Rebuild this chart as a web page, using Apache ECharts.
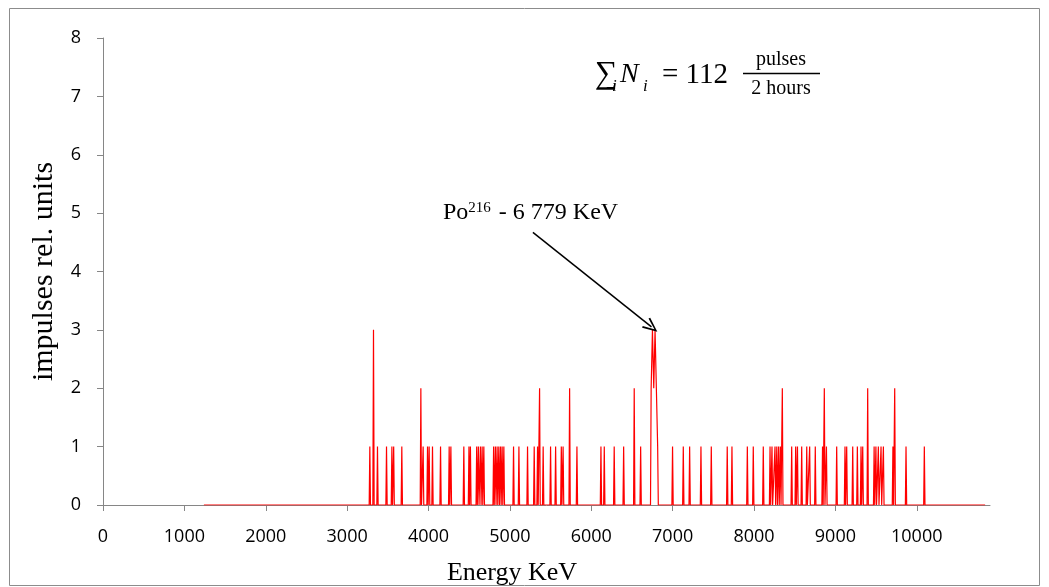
<!DOCTYPE html>
<html>
<head>
<meta charset="utf-8">
<script src="https://cdn.jsdelivr.net/npm/echarts@6/dist/echarts.min.js"></script>
<style>html,body{margin:0;padding:0;background:#fff}#c{width:1049px;height:587px}</style>
</head>
<body>
<div id="c"></div>
<script>
// ---- data ----
const xTickValues = [0,1000,2000,3000,4000,5000,6000,7000,8000,9000,10000];
const yTickValues = [0,1,2,3,4,5,6,7,8];
const spectrumStart = 1240;   // keV, first point of the trace
const spectrumEnd = 10840;    // keV, last point of the trace
const peakEnergy = [
  3279,3324,3373,3484,3550,3572,3672,3906,3934,3988,4008,4049,4148,4254,4275,
  4434,4497,4515,4592,4613,4638,4659,4680,4800,4822,4843,4864,4885,4905,4926,
  5045,5111,5217,5299,5340,5365,5409,5500,5562,5632,5654,5734,5824,
  6119,6160,6282,6398,6528,6607,
  6736,6752,6768,6784,6800,6816,
  6999,7131,7209,7348,7475,7671,7729,
  7918,7991,8114,8197,8221,8258,8280,8302,8324,8348,8463,8512,8534,8586,8648,8684,8753,8842,8864,8890,
  9016,9118,9139,9213,9270,9315,9336,9397,9476,9498,9528,9561,9590,9707,9729,9868,10093
];
const peakCount = [
  1,3,1,1,1,1,1,2,1,1,1,1,1,1,1,
  1,1,1,1,1,1,1,1,1,1,1,1,1,1,1,
  1,1,1,1,1,2,1,1,1,1,1,2,1,
  1,1,1,1,2,1,
  2,3,2,3,2,1,
  1,1,1,1,1,1,1,
  1,1,1,1,1,1,1,1,1,2,1,1,1,1,1,1,1,1,2,1,
  1,1,1,1,1,1,1,2,1,1,1,1,1,1,2,1,1
];
const channelHalfWidth = 8; // keV, half of one spectrometer channel

// build the trace: zero baseline between channels that carry counts
function buildTrace() {
  const idx = peakEnergy.map((e, i) => i).sort((a, b) => peakEnergy[a] - peakEnergy[b]);
  const pts = [[spectrumStart, 0]];
  for (let k = 0; k < idx.length; k++) {
    const e = peakEnergy[idx[k]], c = peakCount[idx[k]];
    const prev = k > 0 ? peakEnergy[idx[k - 1]] : -Infinity;
    const next = k < idx.length - 1 ? peakEnergy[idx[k + 1]] : Infinity;
    if (e - prev > 2 * channelHalfWidth) pts.push([e - channelHalfWidth, 0]);
    pts.push([e, c]);
    if (next - e > 2 * channelHalfWidth) pts.push([e + channelHalfWidth, 0]);
  }
  pts.push([spectrumEnd, 0]);
  return pts;
}

const chart = echarts.init(document.getElementById('c'), null, {renderer: 'canvas'});
const axisGray = '#868686';
const tickFont = {fontFamily: 'Open Sans', fontSize: 18, color: '#000'};
const serif = 'Liberation Serif';

chart.setOption({
  animation: false,
  grid: {left: 103, right: 59, top: 38, bottom: 82, containLabel: false},
  xAxis: {
    type: 'value', min: 0, max: 10900, interval: 1000,
    splitLine: {show: false},
    axisLine: {lineStyle: {color: axisGray, width: 1}},
    axisTick: {show: true, length: 6, lineStyle: {color: axisGray}, customValues: xTickValues},
    axisLabel: Object.assign({margin: 23, customValues: xTickValues, formatter: v => String(v)}, tickFont)
  },
  yAxis: {
    type: 'value', min: 0, max: 8, interval: 1,
    name: 'impulses rel. units', nameLocation: 'middle', nameGap: 44,
    nameTextStyle: {fontFamily: serif, fontSize: 30, color: '#000'},
    splitLine: {show: false},
    axisLine: {show: true, lineStyle: {color: axisGray, width: 1}},
    axisTick: {show: true, length: 6, lineStyle: {color: axisGray}, customValues: yTickValues},
    axisLabel: Object.assign({margin: 22, customValues: yTickValues, formatter: v => String(v)}, tickFont)
  },
  series: [{
    type: 'line',
    data: buildTrace(),
    symbol: 'none',
    lineStyle: {color: '#ff0000', width: 1.2},
    markLine: {
      silent: true,
      symbol: ['none', 'path://M0,12 L5,0 L10,12 L8.6,12.6 L5,3.2 L1.4,12.6 Z'],
      symbolSize: [13, 15],
      lineStyle: {color: '#000', width: 1.5, type: 'solid'},
      label: {show: false},
      data: [[{coord: [5283, 4.67]}, {coord: [6740, 3.05]}]]
    }
  }],
  graphic: [
    {type: 'rect', shape: {x: 9.5, y: 8.5, width: 1030, height: 577}, style: {fill: 'none', stroke: '#8c8c8c', lineWidth: 1}, silent: true},
    {type: 'text', x: 512, y: 573, style: {text: 'Energy KeV', font: '26px "Liberation Serif"', fill: '#000', align: 'center', verticalAlign: 'middle'}},
    {type: 'text', x: 443, y: 213, style: {
      text: '{a|Po}{s|216}{a| - 6 779 KeV}', verticalAlign: 'middle', align: 'left',
      rich: {a: {fontFamily: serif, fontSize: 24, fill: '#000', verticalAlign: 'bottom'},
             s: {fontFamily: serif, fontSize: 15, fill: '#000', verticalAlign: 'top', padding: [0, 2, 9, 0]}}
    }},
    {type: 'text', x: 595, y: 75, style: {text: '∑', font: '32px "Liberation Serif"', fill: '#000', align: 'left', verticalAlign: 'middle'}},
    {type: 'text', x: 612, y: 87, style: {text: 'i', font: 'italic 17px "Liberation Serif"', fill: '#000', align: 'left', verticalAlign: 'middle'}},
    {type: 'text', x: 620, y: 75, style: {text: 'N', font: 'italic 28px "Liberation Serif"', fill: '#000', align: 'left', verticalAlign: 'middle'}},
    {type: 'text', x: 643, y: 87, style: {text: 'i', font: 'italic 17px "Liberation Serif"', fill: '#000', align: 'left', verticalAlign: 'middle'}},
    {type: 'text', x: 662, y: 75, style: {text: '= 112', font: '29px "Liberation Serif"', fill: '#000', align: 'left', verticalAlign: 'middle'}},
    {type: 'text', x: 781, y: 60, style: {text: 'pulses', font: '20px "Liberation Serif"', fill: '#000', align: 'center', verticalAlign: 'middle'}},
    {type: 'line', shape: {x1: 743, y1: 73.5, x2: 820, y2: 73.5}, style: {stroke: '#000', lineWidth: 1.5}},
    {type: 'text', x: 781, y: 89, style: {text: '2 hours', font: '20px "Liberation Serif"', fill: '#000', align: 'center', verticalAlign: 'middle'}}
  ]
});
</script>
</body>
</html>
